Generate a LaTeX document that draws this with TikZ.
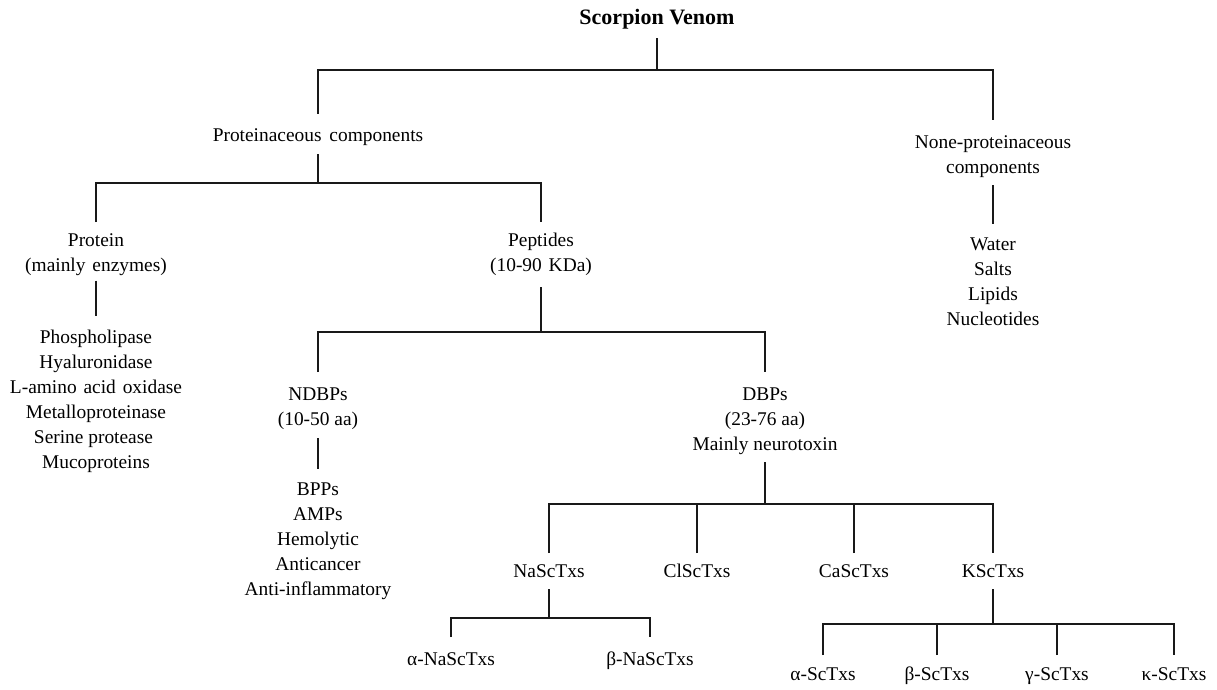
\documentclass[tikz,border=0pt]{standalone}
\usepackage{fontspec}
\setmainfont{Liberation Serif}
\begin{document}
\begin{tikzpicture}[x=1pt,y=-1pt,
  conn/.style={draw=black!90, line width=1.2pt},
  lbl/.style={inner sep=0pt, outer sep=0pt, anchor=base, font=\fontsize{19.4}{25}\selectfont},
  ttl/.style={inner sep=0pt, outer sep=0pt, anchor=base, font=\fontsize{22}{27}\selectfont\bfseries}]
\newcommand{\tl}[1]{\begin{tabular}[t]{@{}c@{}}#1\end{tabular}}
\fill[white] (0,0) rectangle (1217,690);
\useasboundingbox (0,0) rectangle (1217,690);
% bus levels
\coordinate (b1) at (0,70);
\coordinate (b2) at (0,183);
\coordinate (b3) at (0,332);
\coordinate (b4) at (0,504);
\coordinate (b5) at (0,618);
\coordinate (b6) at (0,624);
% nodes
\node[ttl] (T) at (657,25) {\tl{Scorpion Venom}};
\node[lbl] (prot) at (318,142) {\tl{Proteinaceous\hspace{3pt} components}};
\node[lbl] (nonp) at (993,148) {\tl{None-proteinaceous\\components}};
\node[lbl] (water) at (993,250) {\tl{Water\\Salts\\Lipids\\Nucleotides}};
\node[lbl] (protein) at (96,246) {\tl{Protein\\(mainly\hspace{2pt} enzymes)}};
\node[lbl] (enz) at (96,343) {\tl{Phospholipase\\Hyaluronidase\\L-amino\hspace{2pt} acid\hspace{2pt} oxidase\\Metalloproteinase\\Serine protease\hspace*{5pt}\\Mucoproteins}};
\node[lbl] (pept) at (541,246) {\tl{Peptides\\(10-90\hspace{2pt} KDa)}};
\node[lbl] (ndbp) at (318,400) {\tl{NDBPs\\(10-50 aa)}};
\node[lbl] (bpp) at (318,495) {\tl{BPPs\\AMPs\\Hemolytic\\Anticancer\\Anti-inflammatory}};
\node[lbl] (dbp) at (765,400) {\tl{DBPs\\(23-76 aa)\\Mainly neurotoxin}};
\node[lbl] (na) at (549,577) {\tl{NaScTxs}};
\node[lbl] (cl) at (697,577) {\tl{ClScTxs}};
\node[lbl] (ca) at (854,577) {\tl{CaScTxs}};
\node[lbl] (k) at (993,577) {\tl{KScTxs}};
\node[lbl] (ana) at (451,665) {\tl{α-NaScTxs}};
\node[lbl] (bna) at (650,665) {\tl{β-NaScTxs}};
\node[lbl] (ak) at (823,680) {\tl{α-ScTxs}};
\node[lbl] (bk) at (937,680) {\tl{β-ScTxs}};
\node[lbl] (gk) at (1057,680) {\tl{γ-ScTxs}};
\node[lbl] (kk) at (1174,680) {\tl{κ-ScTxs}};
% connectors
\draw[conn] ([yshift=-5pt]T.south) -- (T.south |- b1);
\draw[conn] ([yshift=10.5pt]prot.north) -- (prot.north |- b1) -- (nonp.north |- b1) -- ([yshift=10.5pt]nonp.north);
\draw[conn] ([yshift=-4.5pt]nonp.south) -- ([yshift=8.5pt]water.north);
\draw[conn] ([yshift=-4.5pt]prot.south) -- (prot.south |- b2);
\draw[conn] ([yshift=6.5pt]protein.north) -- (protein.north |- b2) -- (pept.north |- b2) -- ([yshift=6.5pt]pept.north);
\draw[conn] ([yshift=-2pt]protein.south) -- ([yshift=9.5pt]enz.north);
\draw[conn] ([yshift=-8.5pt]pept.south) -- (pept.south |- b3);
\draw[conn] ([yshift=10.5pt]ndbp.north) -- (ndbp.north |- b3) -- (dbp.north |- b3) -- ([yshift=10.5pt]dbp.north);
\draw[conn] ([yshift=-5.5pt]ndbp.south) -- ([yshift=8.5pt]bpp.north);
\draw[conn] ([yshift=-4.5pt]dbp.south) -- (dbp.south |- b4);
\draw[conn] ([yshift=6.5pt]na.north) -- (na.north |- b4) -- (k.north |- b4) -- ([yshift=6.5pt]k.north);
\draw[conn] ([yshift=6.5pt]cl.north) -- (cl.north |- b4);
\draw[conn] ([yshift=6.5pt]ca.north) -- (ca.north |- b4);
\draw[conn] ([yshift=-4.5pt]na.south) -- (na.south |- b5);
\draw[conn] ([yshift=10.5pt]ana.north) -- (ana.north |- b5) -- (bna.north |- b5) -- ([yshift=10.5pt]bna.north);
\draw[conn] ([yshift=-4.5pt]k.south) -- (k.south |- b6);
\draw[conn] ([yshift=7.5pt]ak.north) -- (ak.north |- b6) -- (kk.north |- b6) -- ([yshift=7.5pt]kk.north);
\draw[conn] ([yshift=7.5pt]bk.north) -- (bk.north |- b6);
\draw[conn] ([yshift=7.5pt]gk.north) -- (gk.north |- b6);
\end{tikzpicture}
\end{document}
